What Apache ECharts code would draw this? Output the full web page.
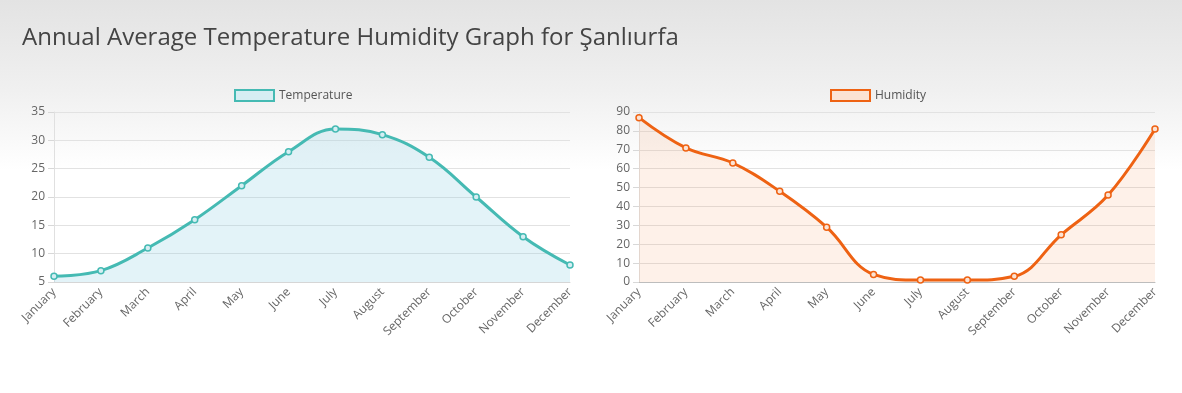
<!DOCTYPE html>
<html><head><meta charset="utf-8">
<script src="https://cdn.jsdelivr.net/npm/echarts@6/dist/echarts.min.js"></script>
<style>
html,body{margin:0;padding:0;}
body{background:linear-gradient(to bottom,#e3e3e3 0px,#f0f0f0 90px,#ffffff 170px,#ffffff 393px);}
#c{width:1182px;height:393px;}
</style></head>
<body><div id="c"></div>
<script>
const months = ['January','February','March','April','May','June','July','August','September','October','November','December'];
const temperature = [6, 7, 11, 16, 22, 28, 32, 31, 27, 20, 13, 8];
const humidity = [87, 71, 63, 48, 29, 4, 1, 1, 3, 25, 46, 81];
const tempTicks = {min: 5, max: 35, interval: 5};
const humTicks = {min: 0, max: 90, interval: 10};

const font = 'Open Sans';
const chart = echarts.init(document.getElementById('c'), null, {renderer: 'canvas'});

function xAxis(idx) {
  return {
    type: 'category', gridIndex: idx, data: months, boundaryGap: false,
    axisLine: {show: true, lineStyle: {color: idx === 0 ? '#d6d6d6' : '#bdbdbd', width: 1}},
    axisTick: {show: false},
    splitLine: {show: false},
    axisLabel: {rotate: 45, color: '#666', fontSize: 12, fontFamily: font, margin: 8, interval: 0}
  };
}
function yAxis(idx, t) {
  return {
    type: 'value', gridIndex: idx, min: t.min, max: t.max, interval: t.interval,
    axisLine: {show: true, lineStyle: {color: '#e0e0e0'}},
    axisTick: {show: true, length: 6, lineStyle: {color: '#d8d8d8'}},
    splitLine: {show: true, lineStyle: {color: '#e2e2e2'}},
    axisLabel: {color: '#666', fontSize: 12, fontFamily: font, margin: 9}
  };
}

chart.setOption({
  animation: false,
  backgroundColor: 'transparent',
  title: {
    text: 'Annual Average Temperature Humidity Graph for Şanlıurfa',
    left: 17, top: 21,
    textStyle: {fontFamily: font, fontSize: 24, fontWeight: 'normal', color: '#444'}
  },
  legend: [
    {data: ['Temperature'], left: 229, top: 84, icon: 'rect', itemWidth: 39, itemHeight: 11, itemGap: 6,
     textStyle: {color: '#555', fontSize: 12, fontFamily: font}},
    {data: ['Humidity'], left: 825, top: 84, icon: 'rect', itemWidth: 39, itemHeight: 11, itemGap: 6,
     textStyle: {color: '#555', fontSize: 12, fontFamily: font}}
  ],
  grid: [
    {left: 54, right: 612, top: 112, bottom: 111},
    {left: 639, right: 27, top: 112, bottom: 111}
  ],
  xAxis: [xAxis(0), xAxis(1)],
  yAxis: [yAxis(0, tempTicks), yAxis(1, humTicks)],
  series: [
    {
      name: 'Temperature', type: 'line', xAxisIndex: 0, yAxisIndex: 0, data: temperature,
      smooth: 0.4, symbol: 'circle', symbolSize: 6,
      lineStyle: {color: '#45bab3', width: 3},
      itemStyle: {color: '#d6eef3', borderColor: '#45bab3', borderWidth: 1.5},
      areaStyle: {color: 'rgba(150,210,228,0.38)'}
    },
    {
      name: 'Humidity', type: 'line', xAxisIndex: 1, yAxisIndex: 1, data: humidity,
      smooth: 0.4, symbol: 'circle', symbolSize: 6,
      lineStyle: {color: '#ee6213', width: 3},
      itemStyle: {color: '#fbe3d4', borderColor: '#ee6213', borderWidth: 1.5},
      areaStyle: {color: 'rgba(245,140,80,0.18)'}
    }
  ]
});
</script></body></html>
